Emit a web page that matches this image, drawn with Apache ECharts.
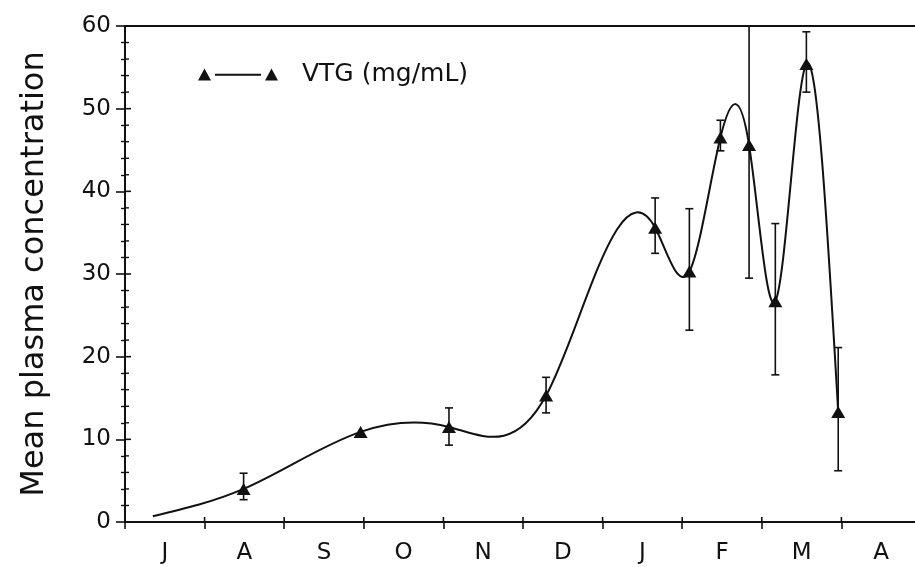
<!DOCTYPE html>
<html>
<head>
<meta charset="utf-8">
<script src="https://cdn.jsdelivr.net/npm/echarts@6/dist/echarts.min.js"></script>
<style>
  html, body { margin: 0; padding: 0; background: #fff; overflow: hidden; }
  /* the frame runs a few pixels past the right edge of the window */
  #chart { width: 921px; height: 567px; }
</style>
</head>
<body>
<div id="chart"></div>
<script>
// Month bands along the x axis (July to April)
const monthLabels = ['J', 'A', 'S', 'O', 'N', 'D', 'J', 'F', 'M', 'A'];
const yTicks = [0, 10, 20, 30, 40, 50, 60];
const yMinorStep = 2;

// Sampling dates, in months since the start of July
const samplePos = [0.35, 1.49, 2.96, 4.07, 5.29, 6.66, 7.09, 7.48, 7.84, 8.17, 8.56, 8.96];
// Mean plasma VTG (mg/mL)
const vtgMean   = [0.7, 4.0, 10.9, 11.5, 15.3, 35.6, 30.3, 46.5, 45.6, 26.7, 55.4, 13.3];
// Error bar ends (null where no bar is drawn)
const vtgLow    = [null, 2.7, null, 9.3, 13.2, 32.5, 23.2, 44.9, 29.5, 17.8, 52.0, 6.2];
const vtgHigh   = [null, 5.9, null, 13.8, 17.5, 39.2, 37.9, 48.6, 60.0, 36.1, 59.3, 21.1];
// Whether a triangle marker is drawn at the sample
const hasMarker = [false, true, true, true, true, true, true, true, true, true, true, true];

const INK = '#111';
const FONT = 'DejaVu Sans';
const SERIES_NAME = 'VTG (mg/mL)';

// Slopes of a natural cubic spline through pixel points p (x increasing)
function naturalSlopes(p) {
  const n = p.length - 1, h = [], M = new Array(n + 1).fill(0);
  for (let i = 0; i < n; i++) h.push(p[i + 1][0] - p[i][0]);
  const a = [], b = [], c = [], d = [];
  for (let i = 1; i < n; i++) {
    a.push(h[i - 1]); b.push(2 * (h[i - 1] + h[i])); c.push(h[i]);
    d.push(6 * ((p[i + 1][1] - p[i][1]) / h[i] - (p[i][1] - p[i - 1][1]) / h[i - 1]));
  }
  const m = b.length;
  for (let i = 1; i < m; i++) {
    const w = a[i] / b[i - 1];
    b[i] -= w * c[i - 1];
    d[i] -= w * d[i - 1];
  }
  const sol = new Array(m);
  sol[m - 1] = d[m - 1] / b[m - 1];
  for (let i = m - 2; i >= 0; i--) sol[i] = (d[i] - c[i] * sol[i + 1]) / b[i];
  for (let i = 1; i < n; i++) M[i] = sol[i - 1];
  const s = [];
  for (let i = 0; i < n; i++) s.push((p[i + 1][1] - p[i][1]) / h[i] - h[i] * (2 * M[i] + M[i + 1]) / 6);
  s.push((p[n][1] - p[n - 1][1]) / h[n - 1] + h[n - 1] * (M[n - 1] + 2 * M[n]) / 6);
  return s;
}

const curveData = samplePos.map((x, i) => [x, vtgMean[i]]);
const markerData = [];
samplePos.forEach((x, i) => { if (hasMarker[i]) markerData.push([x, vtgMean[i]]); });
const errData = [];
samplePos.forEach((x, i) => {
  if (vtgLow[i] !== null && vtgHigh[i] !== null) errData.push([x, vtgLow[i], vtgHigh[i]]);
});

// Inner halves of the axis ticks (the ticks cross both axis lines):
// [axis ('x' | 'y'), value, isMajor]
const innerTicks = [];
for (let v = yTicks[0]; v <= yTicks[yTicks.length - 1]; v += yMinorStep) {
  innerTicks.push(['y', v, yTicks.indexOf(v) >= 0 ? 1 : 0]);
}
for (let k = 1; k < monthLabels.length; k++) innerTicks.push(['x', k, 1]);

const chart = echarts.init(document.getElementById('chart'), null, { renderer: 'canvas' });

const tickStyle = { color: INK, width: 1.6 };
const minorStyle = { color: INK, width: 1.4 };

const option = {
  backgroundColor: '#fff',
  animation: false,
  grid: {
    left: 125, top: 26, right: 0, bottom: 45, containLabel: false,
    show: true, borderColor: INK, borderWidth: 2, backgroundColor: 'transparent'
  },
  legend: {
    left: 193,
    top: 57,
    itemWidth: 80,
    itemHeight: 12,
    data: [{
      name: SERIES_NAME,
      icon: 'path://M0,12 L6.5,0 L13,12 Z M17,5.2 L63,5.2 L63,7.2 L17,7.2 Z M67,12 L73.5,0 L80,12 Z',
      itemStyle: { color: INK }
    }],
    textStyle: { fontFamily: FONT, fontSize: 25, color: INK, padding: [0, 0, 0, 19] }
  },
  xAxis: [
    {
      // month bands, labels and outward ticks
      type: 'category', data: monthLabels, position: 'bottom', boundaryGap: true,
      axisLine: { lineStyle: { color: INK, width: 2 } },
      axisTick: { show: true, inside: false, length: 7, lineStyle: tickStyle },
      axisLabel: { fontFamily: FONT, fontSize: 23, color: INK, margin: 20 },
      splitLine: { show: false }
    },
    // continuous month scale used to place the samples
    { type: 'value', min: 0, max: monthLabels.length, show: false }
  ],
  yAxis: [
    {
      type: 'value', min: yTicks[0], max: yTicks[yTicks.length - 1], interval: 10,
      name: 'Mean plasma concentration', nameLocation: 'middle', nameGap: 74, nameRotate: 90,
      nameTextStyle: { fontFamily: FONT, fontSize: 32, color: INK },
      axisLine: { show: true, lineStyle: { color: INK, width: 2 } },
      axisTick: { show: true, inside: false, length: 9, lineStyle: tickStyle },
      minorTick: { show: true, splitNumber: 5, length: 4, lineStyle: minorStyle },
      axisLabel: { fontFamily: FONT, fontSize: 23, color: INK, margin: 14 },
      splitLine: { show: false }
    }
  ],
  series: [
    {
      name: 'inner ticks',
      type: 'custom',
      xAxisIndex: 1, yAxisIndex: 0,
      data: innerTicks.map(t => [t[0] === 'x' ? t[1] : 0, t[0] === 'y' ? t[1] : 0, t[2], t[0] === 'x' ? 1 : 0]),
      encode: { x: 0, y: 1 },
      silent: true,
      z: 5,
      renderItem: function (params, api) {
        const onX = api.value(3) === 1;
        const major = api.value(2) === 1;
        const p = api.coord([api.value(0), api.value(1)]);
        const len = major ? (onX ? 5 : 6) : 4;
        const shape = onX
          ? { x1: p[0], y1: p[1], x2: p[0], y2: p[1] - len }
          : { x1: p[0], y1: p[1], x2: p[0] + len, y2: p[1] };
        return { type: 'line', shape: shape, style: { stroke: INK, lineWidth: major ? 1.6 : 1.4 } };
      }
    },
    {
      // smooth curve through the sample means (natural cubic spline in screen space)
      name: SERIES_NAME,
      type: 'custom',
      xAxisIndex: 1, yAxisIndex: 0,
      data: curveData,
      encode: { x: 0, y: 1 },
      silent: true,
      z: 2,
      renderItem: function (params, api) {
        const i = params.dataIndex;
        if (i >= curveData.length - 1) return null;
        const p = curveData.map(d => api.coord(d));
        const s = naturalSlopes(p);
        const h = p[i + 1][0] - p[i][0];
        return {
          type: 'bezierCurve',
          shape: {
            x1: p[i][0], y1: p[i][1],
            cpx1: p[i][0] + h / 3, cpy1: p[i][1] + s[i] * h / 3,
            cpx2: p[i + 1][0] - h / 3, cpy2: p[i + 1][1] - s[i + 1] * h / 3,
            x2: p[i + 1][0], y2: p[i + 1][1]
          },
          style: { stroke: INK, lineWidth: 2, fill: null }
        };
      }
    },
    {
      name: 'VTG error',
      type: 'custom',
      xAxisIndex: 1, yAxisIndex: 0,
      data: errData,
      encode: { x: 0, y: [1, 2] },
      silent: true,
      z: 3,
      renderItem: function (params, api) {
        const x = api.value(0);
        const lo = api.coord([x, api.value(1)]);
        const hi = api.coord([x, api.value(2)]);
        const w = 4;
        const st = { stroke: INK, lineWidth: 1.6 };
        return {
          type: 'group',
          children: [
            { type: 'line', shape: { x1: lo[0], y1: lo[1], x2: hi[0], y2: hi[1] }, style: st },
            { type: 'line', shape: { x1: lo[0] - w, y1: lo[1], x2: lo[0] + w, y2: lo[1] }, style: st },
            { type: 'line', shape: { x1: hi[0] - w, y1: hi[1], x2: hi[0] + w, y2: hi[1] }, style: st }
          ]
        };
      }
    },
    {
      name: SERIES_NAME,
      type: 'scatter',
      xAxisIndex: 1, yAxisIndex: 0,
      data: markerData,
      symbol: 'triangle',
      symbolSize: [14, 12],
      z: 4,
      itemStyle: { color: INK, borderWidth: 0, opacity: 1 }
    }
  ]
};

chart.setOption(option);
</script>
</body>
</html>
